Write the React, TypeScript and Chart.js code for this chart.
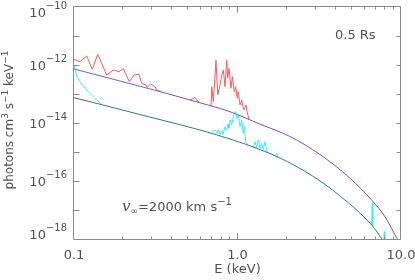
import React, { useEffect, useRef } from "react";
import { Chart, registerables } from "chart.js";

Chart.register(...registerables);

// ---- Model curves (E in keV, flux in photons cm^3 s^-1 keV^-1) ----
const E_HOT = [0.1, 0.144, 0.29, 0.336, 0.59, 0.9, 1.37, 2.1, 3.2, 4.9, 6.65, 8.0, 9.45, 10];
const F_HOT = [7.28e-13, 4.25e-13, 1.51e-13, 1.21e-13, 4.98e-14, 2.45e-14, 9.16e-15, 3.4e-15, 8.13e-16, 1.22e-16, 2.13e-17, 5.74e-18, 1.03e-18, 5.75e-19];

const E_WARM = [0.1, 0.144, 0.29, 0.59, 0.94, 1.37, 1.82, 2.78, 4.24, 6.65, 7.65, 8.57];
const F_WARM = [7.45e-14, 4.45e-14, 1.61e-14, 5.74e-15, 2.59e-15, 1.22e-15, 6.21e-16, 1.68e-16, 3.04e-17, 2.92e-18, 1.0e-18, 4.18e-19];

// ---- Red spectrum ----
const E_RED_LOW = [0.1, 0.1088, 0.1196, 0.1294, 0.1396, 0.1585, 0.1739, 0.1892, 0.2001, 0.2179, 0.2328, 0.2498, 0.2595, 0.2757, 0.2807, 0.2945, 0.3129, 0.3204, 0.3439];
const F_RED_LOW = [1.57e-12, 1.3e-12, 2.04e-12, 7.11e-13, 2.34e-12, 4.52e-13, 6.72e-13, 5.87e-13, 7.69e-13, 2.65e-13, 4.52e-13, 4.78e-13, 2.34e-13, 2.04e-13, 1.7e-13, 2.21e-13, 1.79e-13, 1.37e-13, 1.2e-13];
const E_RED_BUMP = [0.512, 0.55, 0.581];
const F_RED_BUMP = [6.21e-14, 7.57e-14, 5.13e-14];
const E_RED_LINES = [0.6885, 0.6954, 0.7112, 0.7387, 0.7567, 0.7816, 0.8006, 0.8186, 0.8385, 0.8587, 0.871, 0.8872, 0.9124, 0.9295, 0.9559, 0.975, 0.9972, 1.0113, 1.0358, 1.0609, 1.0912, 1.127, 1.1433, 1.176];
const F_RED_LINES = [3.74e-14, 1.79e-13, 5.42e-14, 1.45e-12, 9.24e-14, 2.04e-13, 4.52e-13, 6.72e-13, 1.79e-13, 1.45e-12, 3.48e-13, 7.69e-13, 1.57e-13, 3.95e-13, 1.2e-13, 1.79e-13, 7.11e-14, 1.2e-13, 4.18e-14, 6.21e-14, 2.81e-14, 4.18e-14, 2.45e-14, 1.32e-14];

// ---- Cyan spectrum ----
const E_CYAN_LOW = [0.1, 0.1043, 0.1088, 0.1218, 0.1344, 0.1477];
const F_CYAN_LOW = [1.0e-12, 3.86e-13, 2.59e-13, 1.22e-13, 7.0e-14, 4.35e-14];
const E_CYAN_LINES = [0.6983, 0.7285, 0.7493, 0.7632, 0.7816, 0.8006, 0.8152, 0.8387, 0.8589, 0.8749, 0.8871, 0.8998, 0.9215, 0.9426, 0.956, 0.975, 0.9888, 1.0113, 1.0358, 1.0609, 1.085, 1.1008, 1.1226, 1.1385, 1.1645];
const F_CYAN_LINES = [4.86e-15, 5.74e-15, 4.35e-15, 5.97e-15, 4.18e-15, 5.51e-15, 4.01e-15, 7.45e-15, 5.74e-15, 9.24e-15, 6.72e-15, 1.27e-14, 8.53e-15, 1.65e-14, 2.16e-14, 2.45e-14, 1.45e-14, 1.89e-14, 7.45e-15, 1.27e-14, 4.41e-15, 7.45e-15, 2.27e-15, 1.82e-15, 1.68e-15];
const E_CYAN_MID = [1.2528, 1.2795, 1.3105, 1.3403, 1.3728, 1.406, 1.4381, 1.4729, 1.5086, 1.5365];
const F_CYAN_MID = [1.49e-15, 2.27e-15, 1.46e-15, 2.59e-15, 1.32e-15, 2.0e-15, 1.24e-15, 2.27e-15, 1.08e-15, 9.31e-16];
const E_CYAN_SMALL = [1.696, 1.737, 1.769];
const F_CYAN_SMALL = [7.28e-16, 9.02e-16, 6.62e-16];
const E_CYAN_FE = [6.62, 6.67, 6.72];
const F_CYAN_FE = [2.99e-18, 1.79e-17, 2.81e-18];
const E_CYAN_FE2 = [7.85, 7.9, 7.96];
const F_CYAN_FE2 = [7.9e-19, 1.79e-18, 7.7e-19];

// ---- Axis labels ----
const X_LABELS = [0.1, 1, 10];
const X_LABEL_TEXT = ["0.1", "1.0", "10.0"];
const Y_LABEL_EXP = [-10, -12, -14, -16, -18];
const X_TITLE = "E (keV)";
const ANNOT_R = "0.5 Rs";

const FONT = '"DejaVu Sans", "Liberation Sans", sans-serif';
const TEXT = "#505050";
const AXIS = "#8a8a8a";
const BLUE = "#6262f0";
const PURPLE = "#8045dc";
const GRAY = "#646464";
const TEAL = "#2e7c74";
const RED = "#ff5757";
const CYAN = "#2cf4f4";

type Pt = { x: number; y: number | null };
const pts = (E: number[], F: number[]): Pt[] => E.map((x, i) => ({ x, y: F[i] }));
const joinGaps = (...segs: Pt[][]): Pt[] => {
  const out: Pt[] = [];
  segs.forEach((s, i) => {
    if (i > 0) out.push({ x: s[0].x, y: null });
    out.push(...s);
  });
  return out;
};

type Part = { t: string; size: number; dy?: number; font?: string };
function rich(ctx: CanvasRenderingContext2D, parts: Part[], x: number, y: number, align: "left" | "center" | "right") {
  const fontOf = (p: Part) => p.font ?? `${p.size}px ${FONT}`;
  let w = 0;
  const ws = parts.map((p) => {
    ctx.font = fontOf(p);
    const m = ctx.measureText(p.t).width;
    w += m;
    return m;
  });
  let cx = align === "left" ? x : align === "center" ? x - w / 2 : x - w;
  ctx.textAlign = "left";
  ctx.textBaseline = "alphabetic";
  parts.forEach((p, i) => {
    ctx.font = fontOf(p);
    ctx.fillText(p.t, cx, y + (p.dy ?? 0));
    cx += ws[i];
  });
}

const framePlugin = {
  id: "idlFrame",
  afterDraw(chart: any) {
    const { ctx, chartArea: a, scales } = chart;
    const xs = scales.x;
    const ys = scales.y;
    ctx.save();
    ctx.strokeStyle = AXIS;
    ctx.lineWidth = 1;
    const L = Math.round(a.left) - 0.5;
    const R = Math.round(a.right) - 0.5;
    const T = Math.round(a.top) - 0.5;
    const B = Math.round(a.bottom) + 0.5;
    ctx.beginPath();
    ctx.rect(L, T, R - L, B - T);
    ctx.stroke();
    ctx.beginPath();
    for (let k = -17; k <= -11; k++) {
      const py = Math.round(ys.getPixelForValue(Math.pow(10, k))) + 0.5;
      ctx.moveTo(L, py);
      ctx.lineTo(L + 6, py);
      ctx.moveTo(R, py);
      ctx.lineTo(R - 4, py);
    }
    const decades = [0.1, 1];
    decades.forEach((d) => {
      for (let m = 1; m <= 9; m++) {
        const v = d * m;
        if (v <= 0.1 || v >= 10) continue;
        const px = Math.round(xs.getPixelForValue(v)) - 0.5;
        const len = m === 1 ? 6 : 3;
        ctx.moveTo(px, B);
        ctx.lineTo(px, B - len);
        ctx.moveTo(px, T);
        ctx.lineTo(px, T + len);
      }
    });
    ctx.stroke();

    ctx.fillStyle = TEXT;
    Y_LABEL_EXP.forEach((k) => {
      let cy = ys.getPixelForValue(Math.pow(10, k));
      cy = Math.min(Math.max(cy, a.top + 5), a.bottom - 5);
      rich(ctx, [
        { t: "10", size: 13 },
        { t: "\u2212" + Math.abs(k), size: 10, dy: -8.5 },
      ], 67, cy + 5, "right");
    });
    ctx.font = `13px ${FONT}`;
    ctx.textAlign = "center";
    ctx.textBaseline = "alphabetic";
    X_LABELS.forEach((v, i) => {
      ctx.fillText(X_LABEL_TEXT[i], xs.getPixelForValue(v), 259);
    });
    ctx.fillText(X_TITLE, (a.left + a.right) / 2, 273);

    ctx.save();
    ctx.translate(13, 120);
    ctx.rotate(-Math.PI / 2);
    rich(ctx, [
      { t: "photons cm", size: 12 },
      { t: "3", size: 9, dy: -5 },
      { t: " s", size: 12 },
      { t: "\u22121", size: 9, dy: -5 },
      { t: " keV", size: 12 },
      { t: "\u22121", size: 9, dy: -5 },
    ], 0, 0, "center");
    ctx.restore();

    ctx.font = `13px ${FONT}`;
    ctx.textAlign = "left";
    ctx.fillText(ANNOT_R, 335, 38.5);
    rich(ctx, [
      { t: "v", size: 15, font: 'italic 15px "DejaVu Serif", serif' },
      { t: "\u221e", size: 9, dy: 3 },
      { t: "=2000 km s", size: 13 },
      { t: "\u22121", size: 10, dy: -6 },
    ], 122, 211, "left");
    ctx.restore();
  },
};

export default function App() {
  const ref = useRef<HTMLCanvasElement>(null);
  useEffect(() => {
    const chart = new Chart(ref.current as HTMLCanvasElement, {
      type: "line",
      data: {
        datasets: [
          {
            data: pts(E_HOT, F_HOT),
            borderColor: PURPLE,
            borderWidth: 1,
            pointRadius: 0,
            cubicInterpolationMode: "monotone",
            order: 0,
            segment: { borderColor: (c: any) => (c.p0.parsed.x < 0.33 ? BLUE : PURPLE) },
          },
          {
            data: pts(E_WARM, F_WARM),
            borderColor: TEAL,
            borderWidth: 1,
            pointRadius: 0,
            cubicInterpolationMode: "monotone",
            order: 1,
            segment: { borderColor: (c: any) => (c.p0.parsed.x < 0.14 ? GRAY : TEAL) },
          },
          {
            data: joinGaps(pts(E_RED_LOW, F_RED_LOW), pts(E_RED_BUMP, F_RED_BUMP), pts(E_RED_LINES, F_RED_LINES)),
            borderColor: RED,
            borderWidth: 1,
            pointRadius: 0,
            tension: 0,
            spanGaps: false,
            borderJoinStyle: "round",
            order: 2,
          },
          {
            data: joinGaps(
              pts(E_CYAN_LOW, F_CYAN_LOW),
              pts(E_CYAN_LINES, F_CYAN_LINES),
              pts(E_CYAN_MID, F_CYAN_MID),
              pts(E_CYAN_SMALL, F_CYAN_SMALL),
              pts(E_CYAN_FE, F_CYAN_FE),
              pts(E_CYAN_FE2, F_CYAN_FE2)
            ),
            borderColor: CYAN,
            borderWidth: 1,
            pointRadius: 0,
            tension: 0,
            spanGaps: false,
            borderJoinStyle: "round",
            order: 3,
          },
        ] as any,
      },
      options: {
        animation: false,
        responsive: false,
        maintainAspectRatio: false,
        events: [],
        layout: { padding: { top: 7, right: 14, left: 0, bottom: 0 } },
        plugins: { legend: { display: false }, tooltip: { enabled: false } },
        scales: {
          x: {
            type: "logarithmic",
            min: 0.1,
            max: 10,
            ticks: { display: false },
            grid: { display: false },
            border: { display: false },
            afterFit: (s: any) => {
              s.height = 41;
            },
          },
          y: {
            type: "logarithmic",
            min: 1e-18,
            max: 1e-10,
            ticks: { display: false },
            grid: { display: false },
            border: { display: false },
            afterFit: (s: any) => {
              s.width = 74;
            },
          },
        },
      } as any,
      plugins: [framePlugin],
    });
    return () => chart.destroy();
  }, []);
  return (
    <div style={{ position: "fixed", left: 0, top: 0, width: 415, height: 280, background: "#fff" }}>
      <canvas ref={ref} width={415} height={280} style={{ display: "block", width: 415, height: 280 }} />
    </div>
  );
}
